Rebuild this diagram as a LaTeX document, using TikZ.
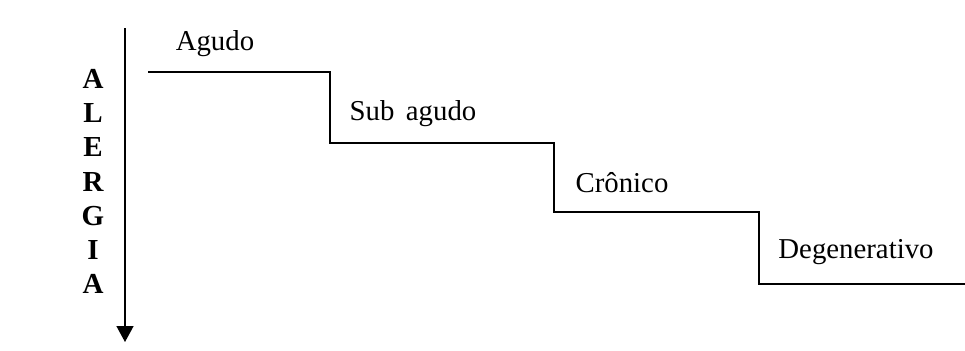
\documentclass[tikz,border=0pt]{standalone}
\usepackage{fontspec}
\setmainfont{Liberation Serif}
\usetikzlibrary{arrows.meta}
\begin{document}
\begin{tikzpicture}[x=0.5pt,y=-0.5pt,
  stage/.style={font=\fontsize{14.4}{17}\selectfont, inner sep=0pt, anchor=base},
  letter/.style={font=\fontsize{14.5}{17}\selectfont\bfseries, inner sep=0pt},
  stair/.style={line width=0.85pt},
  axis/.style={line width=0.75pt, -{Triangle[length=8pt,width=8.5pt]}}]
\useasboundingbox (0,0) rectangle (965,350);

% vertical axis
\coordinate (top) at (125,28);
\coordinate (bottom) at (125,342);
\draw[axis] (top) -- (bottom);

% ALERGIA, one letter per row
\foreach \ch [count=\i from 0] in {A,L,E,R,G,I,A}
  \node[letter] (l\i) at (93,{79+34.2*\i}) {\ch};

% staircase
\coordinate (s0) at (148,72);
\coordinate (s1) at (330,72);
\coordinate (s2) at (330,143);
\coordinate (s3) at (554,143);
\coordinate (s4) at (554,212);
\coordinate (s5) at (759,212);
\coordinate (s6) at (759,284);
\coordinate (s7) at (965,284);
\draw[stair] (s0) -- (s1) -- (s2) -- (s3) -- (s4) -- (s5) -- (s6) -- (s7);

% stage labels
\node[stage] (agudo) at (215,50) {Agudo};
\node[stage] (subagudo) at (413,120) {Sub\hspace{0.4em}agudo};
\node[stage] (cronico) at (622,192) {Crônico};
\node[stage] (degen) at (856,258) {Degenerativo};
\end{tikzpicture}
\end{document}
